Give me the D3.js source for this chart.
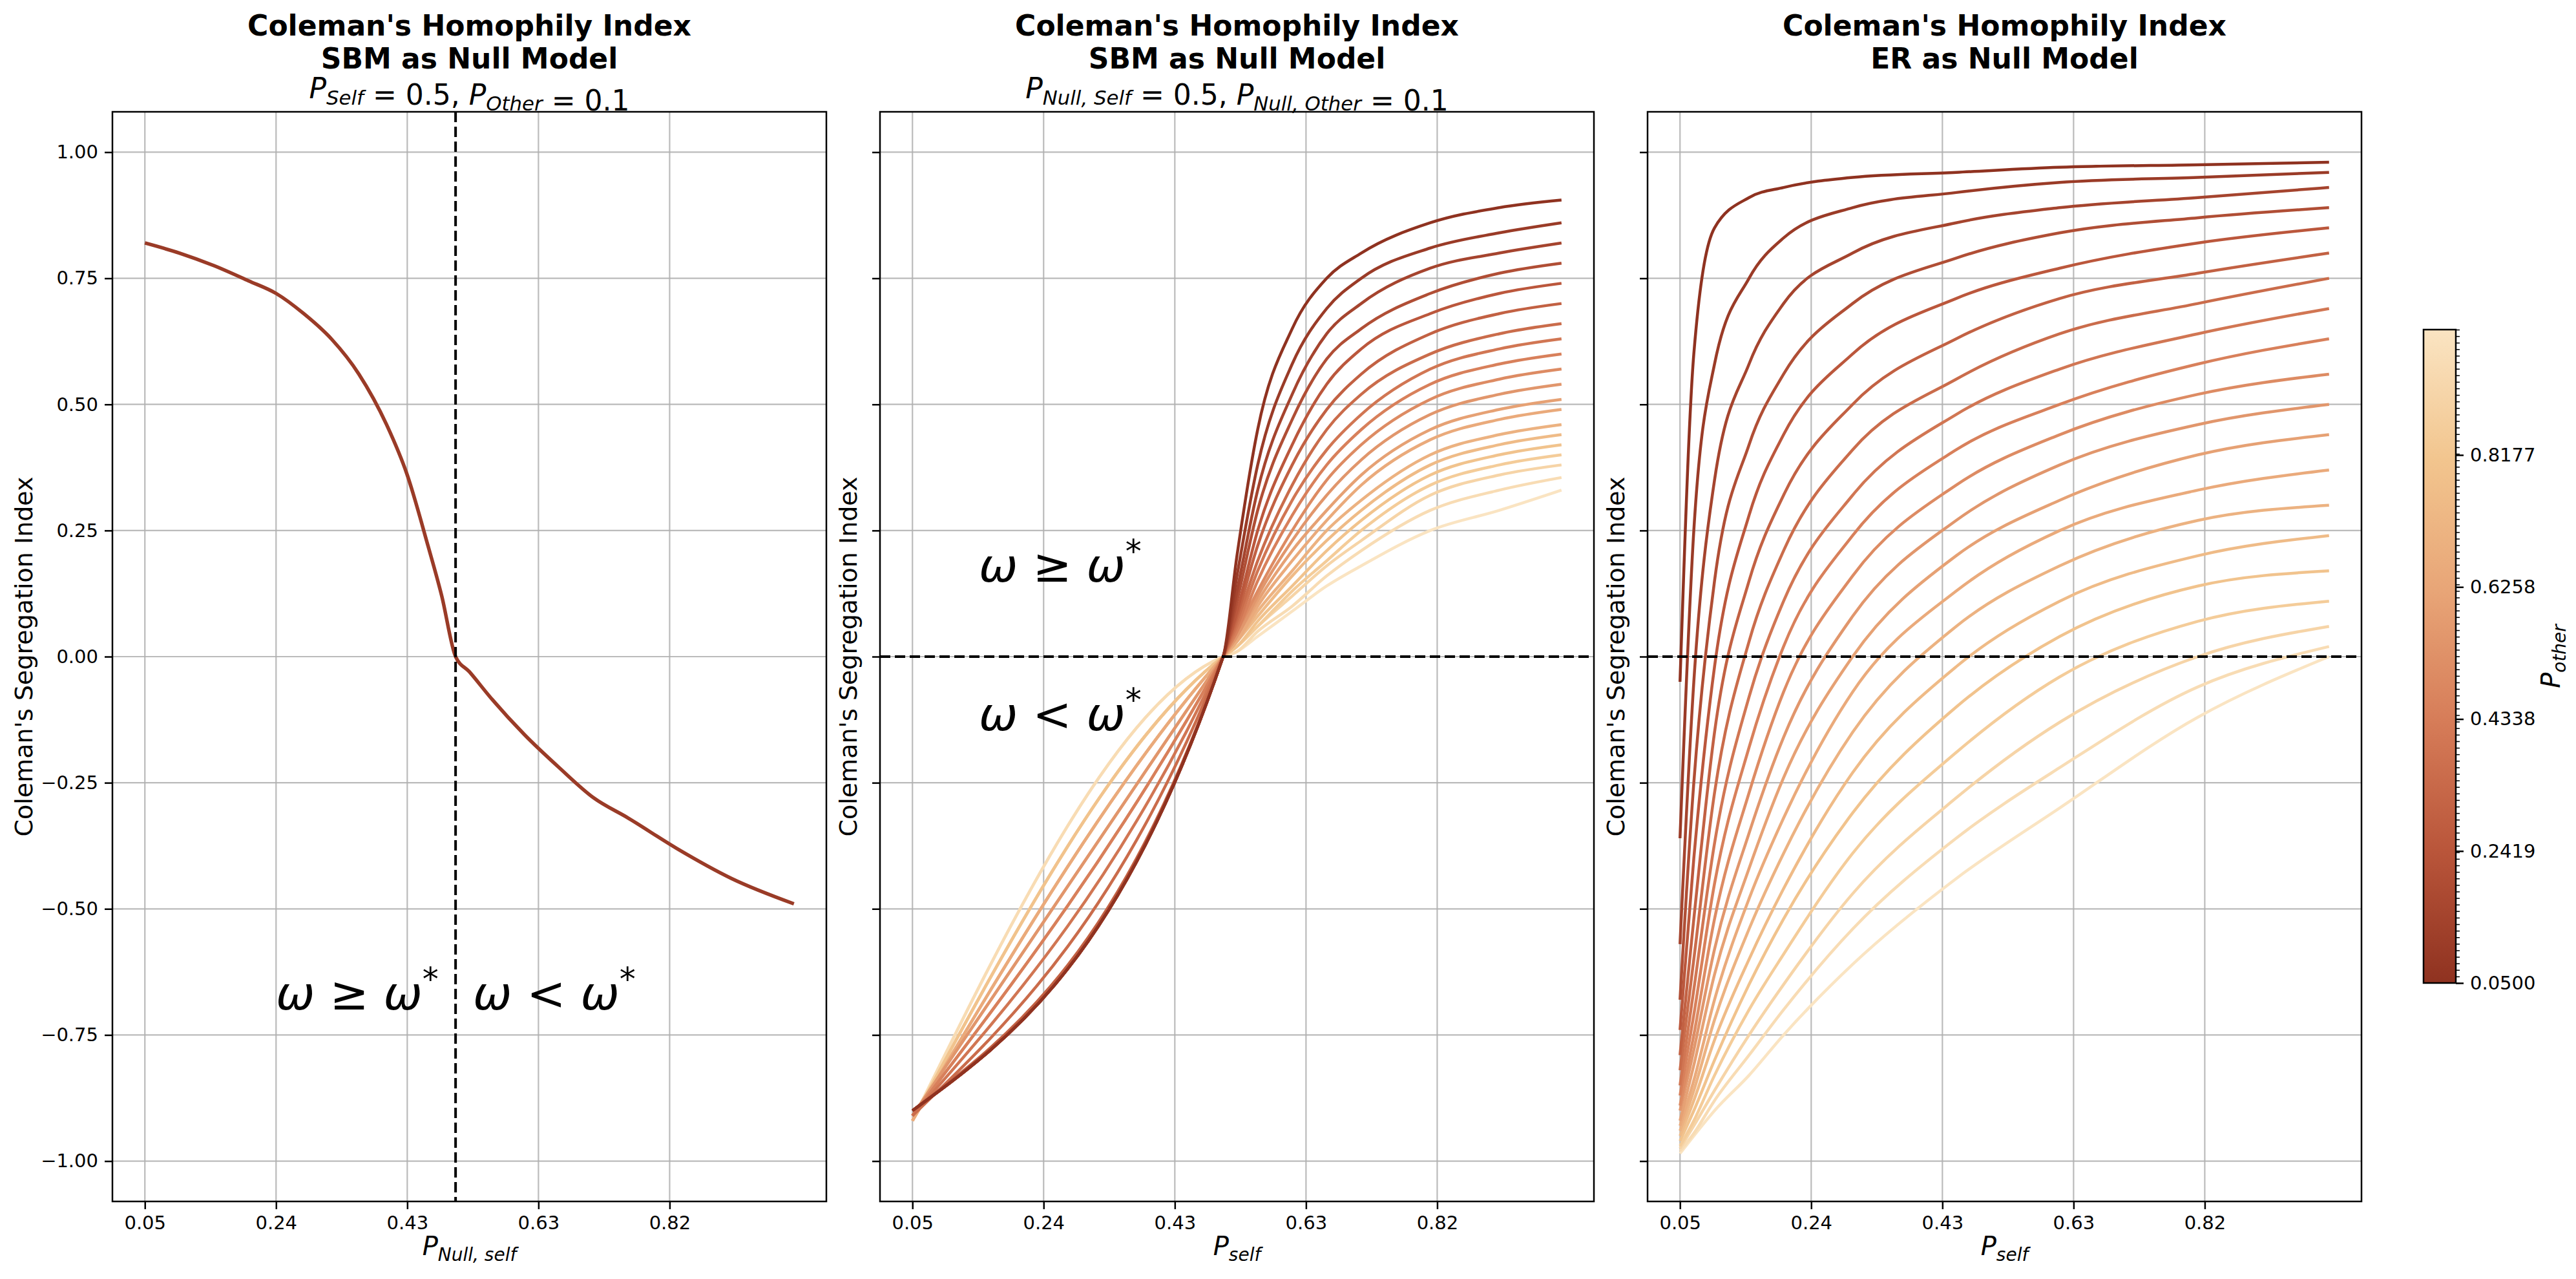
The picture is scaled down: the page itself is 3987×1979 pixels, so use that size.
<!DOCTYPE html>
<html><head><meta charset="utf-8">
<script src="https://cdn.jsdelivr.net/npm/d3@7"></script>
<style>body{margin:0;background:#fff}text{font-family:"DejaVu Sans",sans-serif}</style>
</head><body>
<svg id="fig" width="3987" height="1979"></svg>
<script>
// panel 1: single curve
var xs1 = [0.05,0.10,0.15,0.20,0.24,0.28,0.32,0.36,0.40,0.43,0.46,0.48,0.50,0.52,0.55,0.60,0.65,0.70,0.75,0.82,0.90,0.99];
var ys1 = [0.82,0.80,0.775,0.745,0.72,0.68,0.63,0.56,0.46,0.36,0.22,0.12,0.0,-0.03,-0.08,-0.155,-0.22,-0.28,-0.32,-0.38,-0.44,-0.49];

// panel 2: SBM null, one line per P_other
var xs2 = [0.05,0.50,0.52,0.55,0.60,0.65,0.70,0.80,0.90,0.99];
var pother2 = [0.05,0.10,0.15,0.20,0.25,0.30,0.35,0.40,0.45,0.50,0.55,0.60,0.65,0.70,0.75,0.80,0.85,0.90,0.95,1.00];
var ys2 = [
  [-0.90,0,0.20,0.45,0.65,0.75,0.80,0.86,0.89,0.905],
  [-0.90,0,0.16,0.38,0.58,0.69,0.75,0.81,0.84,0.86],
  [-0.90,0,0.13,0.33,0.52,0.64,0.70,0.77,0.80,0.82],
  [-0.90,0,0.11,0.29,0.47,0.59,0.65,0.72,0.76,0.78],
  [-0.90,0,0.09,0.25,0.42,0.54,0.61,0.68,0.72,0.74],
  [-0.90,0,0.08,0.22,0.38,0.49,0.56,0.64,0.68,0.70],
  [-0.91,0,0.07,0.19,0.34,0.45,0.52,0.60,0.64,0.66],
  [-0.91,0,0.06,0.17,0.31,0.41,0.48,0.57,0.61,0.63],
  [-0.91,0,0.05,0.15,0.28,0.38,0.45,0.54,0.58,0.60],
  [-0.91,0,0.05,0.13,0.25,0.35,0.42,0.51,0.55,0.57],
  [-0.91,0,0.04,0.12,0.23,0.32,0.39,0.48,0.52,0.54],
  [-0.91,0,0.04,0.11,0.21,0.29,0.36,0.45,0.49,0.51],
  [-0.92,0,0.03,0.10,0.19,0.27,0.34,0.43,0.47,0.49],
  [-0.92,0,0.03,0.09,0.17,0.25,0.31,0.40,0.44,0.46],
  [-0.92,0,0.03,0.08,0.16,0.23,0.29,0.38,0.42,0.44],
  [-0.92,0,0.02,0.07,0.14,0.21,0.27,0.36,0.40,0.42],
  [-0.92,0,0.02,0.06,0.13,0.19,0.25,0.34,0.38,0.40],
  [-0.92,0,0.02,0.06,0.12,0.18,0.23,0.32,0.36,0.38],
  [-0.92,0,0.01,0.05,0.10,0.16,0.21,0.29,0.33,0.355],
  [-0.92,0,0.01,0.04,0.09,0.14,0.18,0.25,0.29,0.33]
];

// panel 3: ER null
var xs3 = [0.05,0.07,0.10,0.15,0.20,0.30,0.45,0.60,0.80,0.99];
var pother3 = pother2;
var ys3 = [
  [-0.05,0.60,0.85,0.91,0.93,0.95,0.96,0.97,0.975,0.98],
  [-0.36,0.25,0.58,0.75,0.83,0.89,0.92,0.94,0.95,0.96],
  [-0.57,-0.05,0.35,0.58,0.70,0.80,0.86,0.89,0.91,0.93],
  [-0.68,-0.25,0.15,0.42,0.56,0.70,0.79,0.84,0.87,0.89],
  [-0.74,-0.40,-0.02,0.28,0.44,0.60,0.71,0.77,0.82,0.85],
  [-0.79,-0.52,-0.15,0.15,0.32,0.50,0.63,0.71,0.76,0.80],
  [-0.82,-0.60,-0.27,0.03,0.21,0.41,0.55,0.64,0.70,0.75],
  [-0.85,-0.66,-0.37,-0.08,0.11,0.32,0.48,0.57,0.64,0.69],
  [-0.87,-0.71,-0.45,-0.18,0.02,0.24,0.41,0.50,0.58,0.63],
  [-0.89,-0.75,-0.52,-0.27,-0.07,0.16,0.34,0.44,0.52,0.56],
  [-0.90,-0.78,-0.58,-0.35,-0.16,0.08,0.27,0.38,0.46,0.50],
  [-0.92,-0.81,-0.63,-0.42,-0.24,0.00,0.20,0.31,0.40,0.44],
  [-0.93,-0.84,-0.68,-0.48,-0.32,-0.07,0.13,0.25,0.33,0.37],
  [-0.94,-0.86,-0.72,-0.54,-0.39,-0.15,0.06,0.18,0.27,0.30],
  [-0.95,-0.88,-0.76,-0.60,-0.46,-0.23,-0.02,0.11,0.20,0.24],
  [-0.96,-0.90,-0.80,-0.65,-0.52,-0.31,-0.10,0.04,0.14,0.17],
  [-0.97,-0.92,-0.83,-0.70,-0.59,-0.39,-0.19,-0.04,0.07,0.11],
  [-0.975,-0.93,-0.86,-0.75,-0.65,-0.47,-0.28,-0.13,0.00,0.06],
  [-0.98,-0.945,-0.88,-0.79,-0.70,-0.54,-0.36,-0.22,-0.06,0.02],
  [-0.985,-0.95,-0.90,-0.83,-0.75,-0.61,-0.44,-0.30,-0.12,0.00]
];

var xTicks = [0.05,0.24,0.43,0.62,0.81];
var xTickLabels = ["0.05","0.24","0.43","0.63","0.82"];
var yTicks = [-1.0,-0.75,-0.5,-0.25,0,0.25,0.5,0.75,1.0];
var cbTicks = [0.05,0.2419,0.4338,0.6258,0.8177];
var cmapStops = ["#8f3220","#b9553a","#d67c58","#e8a577","#f2c58e","#fae4c2"];

var svg = d3.select("#fig");
var color = d3.scaleLinear()
    .domain(d3.range(cmapStops.length).map(i => 0.05 + i * 0.95 / (cmapStops.length - 1)))
    .range(cmapStops).interpolate(d3.interpolateRgb);

var panels = [
  {left:174, title:["Coleman's Homophily Index","SBM as Null Model"], sub:[["P","Self"],"= 0.5, ",["P","Other"],"= 0.1"], xlab:["P","Null, self"]},
  {left:1362, title:["Coleman's Homophily Index","SBM as Null Model"], sub:[["P","Null, Self"],"= 0.5, ",["P","Null, Other"],"= 0.1"], xlab:["P","self"]},
  {left:2550, title:["Coleman's Homophily Index","ER as Null Model"], sub:null, xlab:["P","self"]}
];
var plotTop = 173, plotBottom = 1859, pw = 1105;
var y = d3.scaleLinear().domain([-1.08,1.08]).range([plotBottom, plotTop]);

function mathText(sel, parts, size) {
  parts.forEach(p => {
    if (typeof p === "string") {
      sel.append("tspan").attr("font-size", size).text(" " + p);
    } else {
      sel.append("tspan").attr("font-style","italic").attr("font-size", size).text(p[0]);
      sel.append("tspan").attr("font-style","italic").attr("font-size", size*0.7).attr("dy", size*0.22).text(p[1]);
      sel.append("tspan").attr("font-size", size).attr("dy", -size*0.22).text("");
    }
  });
}

panels.forEach((p, pi) => {
  var x = d3.scaleLinear().domain([0.003,1.037]).range([p.left, p.left + pw]);
  var g = svg.append("g");
  // grid
  g.selectAll(".gx").data(xTicks).join("line")
    .attr("x1", d => x(d)).attr("x2", d => x(d)).attr("y1", plotTop).attr("y2", plotBottom)
    .attr("stroke", "#b0b0b0").attr("stroke-width", 2.2).attr("opacity", 0.85);
  g.selectAll(".gy").data(yTicks).join("line")
    .attr("x1", p.left).attr("x2", p.left + pw).attr("y1", d => y(d)).attr("y2", d => y(d))
    .attr("stroke", "#b0b0b0").attr("stroke-width", 2.2).attr("opacity", 0.85);

  var line = d3.line().curve(d3.curveMonotoneX);
  if (pi === 0) {
    g.append("path").attr("d", line(xs1.map((v, i) => [x(v), y(ys1[i])])))
      .attr("fill", "none").attr("stroke", color(0.1)).attr("stroke-width", 5.5);
    g.append("line").attr("x1", x(0.5)).attr("x2", x(0.5)).attr("y1", plotTop).attr("y2", plotBottom)
      .attr("stroke", "#000").attr("stroke-width", 4).attr("stroke-dasharray", "16,7");
  } else {
    var xs = pi === 1 ? xs2 : xs3, ys = pi === 1 ? ys2 : ys3, po = pi === 1 ? pother2 : pother3;
    ys.slice().reverse().forEach((row, ri) => {
      var k = ys.length - 1 - ri;
      g.append("path").attr("d", line(xs.map((v, i) => [x(v), y(row[i])])))
        .attr("fill", "none").attr("stroke", color(po[k])).attr("stroke-width", 4.5);
    });
    g.append("line").attr("x1", p.left).attr("x2", p.left + pw).attr("y1", y(0)).attr("y2", y(0))
      .attr("stroke", "#000").attr("stroke-width", 4).attr("stroke-dasharray", "16,7");
  }
  // frame
  g.append("rect").attr("x", p.left).attr("y", plotTop).attr("width", pw).attr("height", plotBottom - plotTop)
    .attr("fill", "none").attr("stroke", "#000").attr("stroke-width", 2.5);
  // axes
  var xa = d3.axisBottom(x).tickValues(xTicks).tickFormat((d, i) => xTickLabels[i]).tickSize(12).tickPadding(10);
  g.append("g").attr("transform", `translate(0,${plotBottom})`).call(xa)
    .call(a => a.select(".domain").remove())
    .call(a => a.selectAll("text").attr("font-size", 29).attr("font-family", "DejaVu Sans"))
    .call(a => a.selectAll("line").attr("stroke-width", 2.5));
  var ya = d3.axisLeft(y).tickValues(yTicks).tickFormat(pi === 0 ? d3.format(".2f") : () => "").tickSize(12).tickPadding(10);
  g.append("g").attr("transform", `translate(${p.left},0)`).call(ya)
    .call(a => a.select(".domain").remove())
    .call(a => a.selectAll("text").attr("font-size", 29).attr("font-family", "DejaVu Sans").text(function(){return this.textContent.replace("-", "\u2212");}))
    .call(a => a.selectAll("line").attr("stroke-width", 2.5));

  // titles
  var cx = p.left + pw / 2;
  svg.append("text").attr("x", cx).attr("y", 55).attr("text-anchor", "middle").attr("font-size", 44).attr("font-weight", "bold").text(p.title[0]);
  svg.append("text").attr("x", cx).attr("y", 106).attr("text-anchor", "middle").attr("font-size", 44).attr("font-weight", "bold").text(p.title[1]);
  if (p.sub) {
    var st = svg.append("text").attr("x", cx).attr("y", 152).attr("text-anchor", "middle");
    mathText(st, p.sub, 44);
  }
  var xl = svg.append("text").attr("x", cx).attr("y", 1942).attr("text-anchor", "middle");
  mathText(xl, [p.xlab], 40);
  svg.append("text").attr("transform", `translate(${p.left - (pi === 0 ? 124 : 36)},${(plotTop + plotBottom) / 2}) rotate(-90)`)
    .attr("text-anchor", "middle").attr("font-size", 38).text("Coleman's Segregation Index");
});

// annotations
function omega(xp, yp, sym) {
  var t = svg.append("text").attr("x", xp).attr("y", yp).attr("font-size", 72).attr("font-family", "DejaVu Sans");
  t.append("tspan").attr("font-style", "italic").text("\u03c9");
  t.append("tspan").text(" " + sym + " ");
  t.append("tspan").attr("font-style", "italic").text("\u03c9");
  t.append("tspan").attr("font-size", 50).attr("dy", -30).text("*");
}
omega(427, 1562, "\u2265");
omega(732, 1562, "<");
omega(1515, 900, "\u2265");
omega(1515, 1130, "<");

// colorbar
var cbL = 3751, cbW = 50, cbT = 510, cbB = 1521;
var cy = d3.scaleLinear().domain([0.05, 1.0]).range([cbB, cbT]);
var defs = svg.append("defs");
var grad = defs.append("linearGradient").attr("id", "cb").attr("x1", 0).attr("y1", 1).attr("x2", 0).attr("y2", 0);
cmapStops.forEach((c, i) => grad.append("stop").attr("offset", i / (cmapStops.length - 1)).attr("stop-color", c));
svg.append("rect").attr("x", cbL).attr("y", cbT).attr("width", cbW).attr("height", cbB - cbT)
  .attr("fill", "url(#cb)").attr("stroke", "#000").attr("stroke-width", 2.5);
svg.append("g").attr("transform", `translate(${cbL + cbW},0)`)
  .call(d3.axisRight(cy).tickValues(d3.range(0.05, 1.0001, 0.0095)).tickFormat("").tickSize(6))
  .call(a => a.select(".domain").remove()).call(a => a.selectAll("line").attr("stroke-width", 1.5));
svg.append("g").attr("transform", `translate(${cbL + cbW},0)`)
  .call(d3.axisRight(cy).tickValues(cbTicks).tickFormat(d3.format(".4f")).tickSize(12).tickPadding(10))
  .call(a => a.select(".domain").remove())
  .call(a => a.selectAll("text").attr("font-size", 29).attr("font-family", "DejaVu Sans"))
  .call(a => a.selectAll("line").attr("stroke-width", 2.5));
var cl = svg.append("text").attr("transform", `translate(3962,${(cbT + cbB) / 2}) rotate(-90)`).attr("text-anchor", "middle");
mathText(cl, [["P","other"]], 40);
</script>
</body></html>
